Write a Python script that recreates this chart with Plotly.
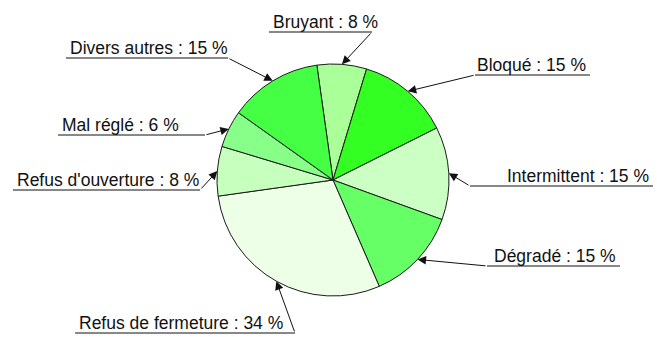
import math
import plotly.graph_objects as go

# Breakdown of failure causes (percent), clockwise from the top
causes = ["Bruyant", "Bloqué", "Intermittent", "Dégradé",
          "Refus de fermeture", "Refus d'ouverture", "Mal réglé", "Divers autres"]
percents = [8, 15, 15, 15, 34, 8, 6, 15]
colors = ["#aaff99", "#33ff22", "#ccffc4", "#66ff66",
          "#eeffe8", "#c6ffbe", "#88ff88", "#44ff44"]

W, H = 657, 337
CX, CY, R = 333, 180, 116          # pie centre and radius, in pixels
START = -8                          # angle of the first slice edge (deg, clockwise from 12 o'clock)

# Callout layout: underline y, underline x-range, which end the leader leaves from, text side
callouts = [
    dict(uy=32,  ux=(269, 372), knee="right", text_at="left"),   # Bruyant
    dict(uy=75,  ux=(475, 590), knee="left",  text_at="right"),  # Bloqué
    dict(uy=186, ux=(470, 653), knee="left",  text_at="right"),  # Intermittent
    dict(uy=266, ux=(487, 620), knee="left",  text_at="right"),  # Dégradé
    dict(uy=333, ux=(75, 295),  knee="right", text_at="left"),   # Refus de fermeture
    dict(uy=190, ux=(13, 200),  knee="right", text_at="left"),   # Refus d'ouverture
    dict(uy=135, ux=(58, 205),  knee="right", text_at="left"),   # Mal réglé
    dict(uy=58,  ux=(66, 228),  knee="right", text_at="left"),   # Divers autres
]

fig = go.Figure()
fig.add_trace(go.Pie(
    labels=causes, values=percents, sort=False, direction="clockwise",
    rotation=START, textinfo="none", hoverinfo="label+percent",
    marker=dict(colors=colors, line=dict(color="#1a1a1a", width=1)),
    domain=dict(x=[(CX - R) / W, (CX + R) / W], y=[(H - CY - R) / H, (H - CY + R) / H]),
    showlegend=False,
))

# mid-angle of each slice, from the data
total = sum(percents)
mids = []
acc = 0.0
for v in percents:
    mids.append(START + (acc + v / 2) / total * 360)
    acc += v

shapes, annotations = [], []
font = dict(family="Liberation Sans, Arial, sans-serif", size=17.5, color="#111111")
for name, v, ang, c in zip(causes, percents, mids, callouts):
    a = math.radians(ang)
    tip_x = CX + R * math.sin(a)
    tip_y = CY - R * math.cos(a)
    x0, x1 = c["ux"]
    knee_x = x1 if c["knee"] == "right" else x0
    shapes.append(dict(type="line", xref="x", yref="y", x0=x0, x1=x1, y0=c["uy"], y1=c["uy"],
                       line=dict(color="#111111", width=1)))
    annotations.append(dict(
        x=tip_x, y=tip_y, ax=knee_x, ay=c["uy"], xref="x", yref="y", axref="x", ayref="y",
        text="", showarrow=True, arrowhead=2, arrowsize=1.7, arrowwidth=1, arrowcolor="#111111",
        standoff=0,
    ))
    if c["text_at"] == "left":
        tx, anchor = x0 + 2, "left"
    else:
        tx, anchor = x1 - 2, "right"
    annotations.append(dict(
        x=tx, y=c["uy"], xref="x", yref="y", xanchor=anchor, yanchor="bottom",
        text=f"{name} : {v} %", showarrow=False, font=font, yshift=-2,
    ))

fig.update_layout(
    width=W, height=H, margin=dict(l=0, r=0, t=0, b=0),
    paper_bgcolor="white", plot_bgcolor="rgba(0,0,0,0)",
    xaxis=dict(range=[0, W], visible=False, fixedrange=True),
    yaxis=dict(range=[H, 0], visible=False, fixedrange=True),
    shapes=shapes, annotations=annotations,
)

fig.write_html("out.html", config={"displayModeBar": False})
